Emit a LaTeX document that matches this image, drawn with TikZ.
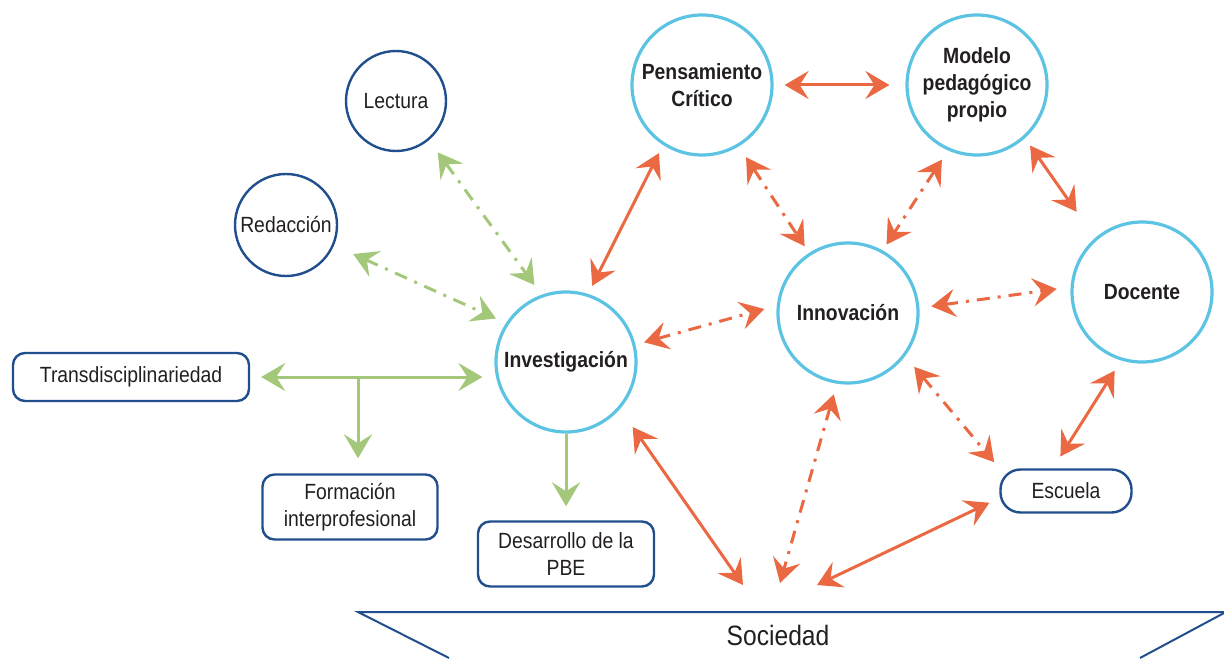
\documentclass[tikz,border=0pt]{standalone}
\usepackage{fontspec}
\setmainfont{Liberation Sans}[FakeStretch=0.88]
\usetikzlibrary{arrows.meta}
\definecolor{celeste}{RGB}{92,196,226}
\definecolor{azul}{RGB}{33,78,140}
\definecolor{naranja}{RGB}{234,104,66}
\definecolor{verde}{RGB}{164,200,122}
\definecolor{tinta}{RGB}{35,31,32}
\tikzset{
>={Stealth[length=12pt,width=14pt,inset=4.5pt]}, % large barbed heads
every node/.style={text=tinta, font=\fontsize{11}{13.5}\selectfont},
eje/.style={circle, draw=celeste, line width=1.6pt, minimum size=70pt, inner sep=1pt, align=center, font=\bfseries\fontsize{11}{13.5}\selectfont}, % main ideas
tema/.style={circle, draw=azul, line width=1.2pt, minimum size=50pt, inner sep=1pt}, % small circles
caja/.style={rectangle, rounded corners=6pt, draw=azul, line width=1.2pt, align=center, inner sep=2pt}, % boxes
fuerte/.style={<->, draw=naranja, line width=1.5pt},
debil/.style={<->, draw=naranja, line width=1.5pt, dash pattern=on 6.5pt off 4pt on 1.5pt off 4pt},
apoyo/.style={draw=verde, line width=1.5pt},
}
\begin{document}
\begin{tikzpicture}[x=0.5pt,y=-0.5pt]
      \useasboundingbox (0,0) rectangle (1224,658);

      \node[tema] (lec) at (396,101) {Lectura};
      \node[tema, minimum size=51pt] (red) at (286,225) {Redacción};
      \node[eje] (pc) at (702,85) {Pensamiento\\Crítico};
      \node[eje] (mod) at (977,85) {Modelo\\pedagógico\\propio};
      \node[eje] (inv) at (566,362) {Investigación};
      \node[eje] (inn) at (848,313) {Innovación};
      \node[eje] (doc) at (1142,292) {Docente};

      \node[caja, minimum width=118pt, minimum height=24pt] (tra) at (131,377) {Transdisciplinariedad};
      \node[caja, minimum width=87.5pt, minimum height=32.5pt] (for) at (350,507) {Formación\\interprofesional};
      \node[caja, minimum width=88pt, minimum height=32.5pt] (des) at (566,554) {Desarrollo de la\\PBE};
      \node[caja, rounded corners=10pt, minimum width=65.5pt, minimum height=21.5pt] (esc) at (1066,491) {Escuela};

      % Sociedad
      \draw[azul, line width=1pt] (449,658) -- (358,612) -- (1224,612);
      \draw[azul, line width=1pt] (1224,613) -- (1140,658);
      \node[font=\fontsize{14}{16}\selectfont] (soc) at (778,635) {Sociedad};
      \coordinate (s1) at (743,585);
      \coordinate (s2) at (780,583);
      \coordinate (s3) at (817,585);
      \coordinate (cruce) at (358,377);

      \draw
      (lec.-50) edge[apoyo, <->, dash pattern=on 6.5pt off 4pt on 1.5pt off 4pt, shorten <=7.5pt, shorten >=6pt] (inv.110)
      (red.-23) edge[apoyo, <->, dash pattern=on 6.5pt off 4pt on 1.5pt off 4pt, shorten <=10.5pt, shorten >=5.5pt] (inv.147)
      (tra.east) edge[apoyo, <->, shorten <=5.5pt, shorten >=6pt] (tra.east -| inv.west)
      (cruce) edge[apoyo, ->, shorten >=7.5pt] (cruce |- for.north)
      (inv.south) edge[apoyo, ->, shorten >=7pt] (des.north)

      (inv.72) edge[fuerte, shorten <=4.5pt, shorten >=4.5pt] (pc.237)
      (pc.east) edge[fuerte, shorten <=5.5pt, shorten >=8pt] (mod.west)
      (mod.-48) edge[fuerte, shorten <=4.5pt, shorten >=16pt] (doc.131)
      (doc.-107) edge[fuerte, shorten <=6pt, shorten >=7pt] (esc.120)
      (inv.-41.5) edge[fuerte, shorten <=11pt] (s1)
      (s3) edge[fuerte, shorten >=5.5pt] (esc.186)

      (pc.-59) edge[debil, shorten <=6.5pt, shorten >=4pt] (inn.123.5)
      (mod.-114) edge[debil, shorten <=5.5pt, shorten >=3.5pt] (inn.61)
      (inv.14) edge[debil, shorten <=4.5pt, shorten >=6.5pt] (inn.174.5)
      (inn.4) edge[debil, shorten <=6pt, shorten >=7pt] (doc.176.5)
      (inn.-37) edge[debil, shorten <=7pt, shorten >=4pt] (esc.north west)
      (inn.-99) edge[debil, shorten <=5.5pt] (s2)
      ;
    \end{tikzpicture}
\end{document}
